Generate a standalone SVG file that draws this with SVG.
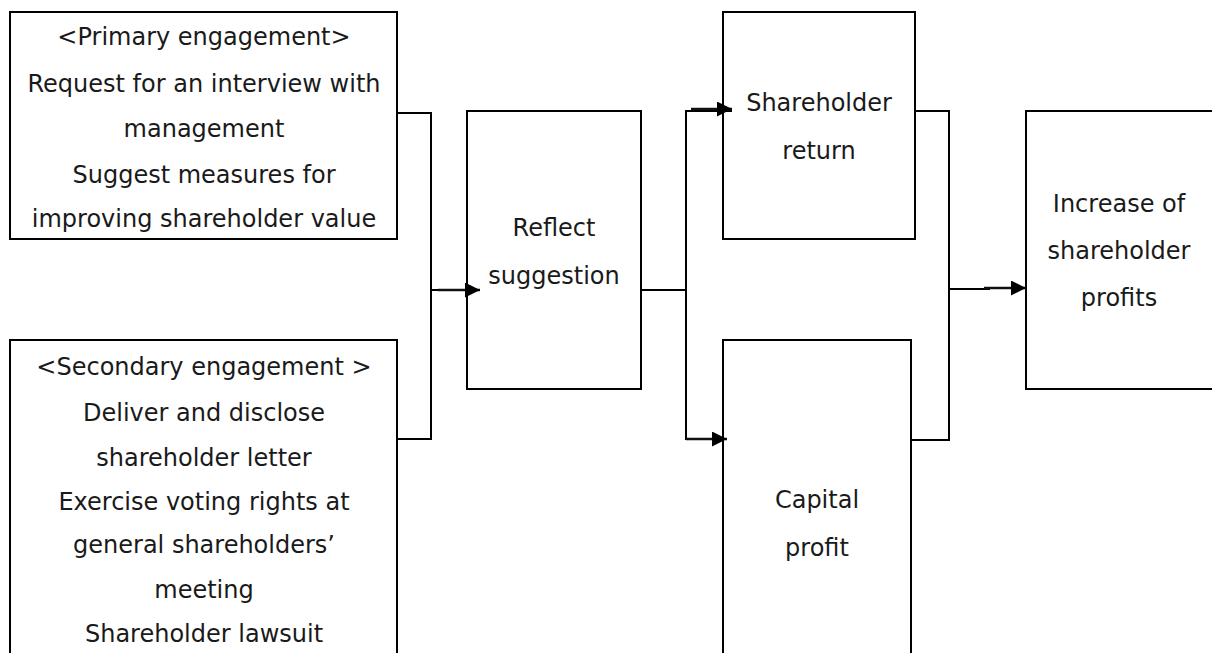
<svg xmlns="http://www.w3.org/2000/svg" width="1212" height="653" viewBox="0 0 1212 653">
<defs>
<style>
.box{fill:#fff;stroke:#000;stroke-width:2}
.t{font-family:"DejaVu Sans","Noto Sans",sans-serif;font-size:24px;fill:#1a1a1a;text-anchor:middle}
.c{fill:none;stroke:#000;stroke-width:2}
.a{fill:none;stroke:#111;stroke-width:2.5}
</style>
<marker id="ah" viewBox="0 0 10 10" refX="10" refY="5" markerWidth="15" markerHeight="15" markerUnits="userSpaceOnUse" orient="auto">
<path d="M0,0 L10,5 L0,10 Z" fill="#000"/>
</marker>
</defs>
<g id="n1"><rect class="box" x="10" y="12" width="387" height="227"/>
<text class="t"><tspan x="204" y="45">&lt;Primary engagement&gt;</tspan><tspan x="204" y="92">Request for an interview with</tspan><tspan x="204" y="137">management</tspan><tspan x="204" y="183">Suggest measures for</tspan><tspan x="204" y="227">improving shareholder value</tspan></text></g>
<g id="n2"><rect class="box" x="10" y="340" width="387" height="320"/>
<text class="t"><tspan x="204" y="375">&lt;Secondary engagement &gt;</tspan><tspan x="204" y="421">Deliver and disclose</tspan><tspan x="204" y="466">shareholder letter</tspan><tspan x="204" y="510">Exercise voting rights at</tspan><tspan x="204" y="553">general shareholders’</tspan><tspan x="204" y="598">meeting</tspan><tspan x="204" y="642">Shareholder lawsuit</tspan></text></g>
<g id="n3"><rect class="box" x="467" y="111" width="174" height="278"/>
<text class="t"><tspan x="554" y="236">Reflect</tspan><tspan x="554" y="284">suggestion</tspan></text></g>
<g id="n4"><rect class="box" x="723" y="12" width="192" height="227"/>
<text class="t"><tspan x="819" y="111">Shareholder</tspan><tspan x="819" y="159">return</tspan></text></g>
<g id="n5"><rect class="box" x="723" y="340" width="188" height="320"/>
<text class="t"><tspan x="817" y="508">Capital</tspan><tspan x="817" y="556">profit</tspan></text></g>
<g id="n6"><rect class="box" x="1026" y="111" width="190" height="278"/>
<text class="t"><tspan x="1119" y="212">Increase of</tspan><tspan x="1119" y="259">shareholder</tspan><tspan x="1119" y="306">profits</tspan></text></g>
<g id="connectors">
<path class="c" d="M397,113 H431 V439 H397"/>
<path class="c" d="M431,290 H440"/>
<path class="a" d="M438,290 H480" marker-end="url(#ah)"/>
<path class="c" d="M641,290 H686 M732,111 H686 V439 H695"/>
<path class="a" d="M691,109 H732" marker-end="url(#ah)"/>
<path class="a" d="M686,439 H727" marker-end="url(#ah)"/>
<path class="c" d="M915,111 H949 V440 H911 M949,289 H990"/>
<path class="a" d="M984,288 H1026" marker-end="url(#ah)"/>
</g>
</svg>
